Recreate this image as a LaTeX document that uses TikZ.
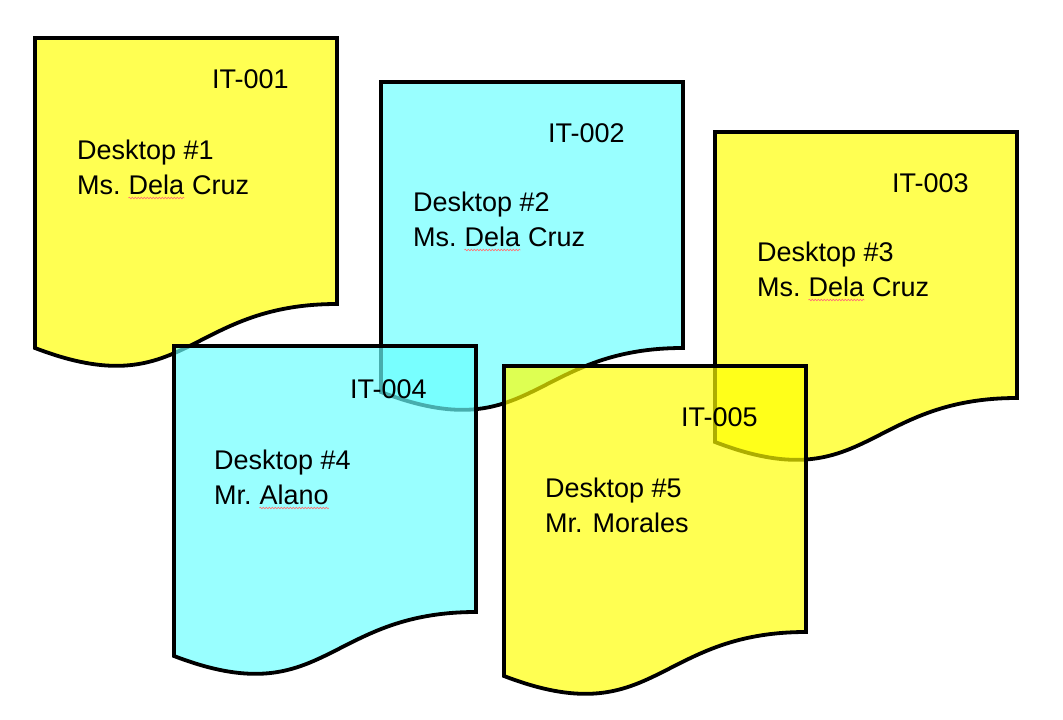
\documentclass[tikz,border=0pt]{standalone}
\usepackage{fontspec}
\setmainfont{Liberation Sans}
\usetikzlibrary{calc, decorations.pathmorphing}
\definecolor{sheetyellow}{HTML}{FFFF00}
\definecolor{sheetcyan}{HTML}{69FFFF}
% a document sheet: name, top-left corner, style
\newcommand{\docsheet}[3]{%
  \coordinate (#1) at (#2);
  \draw[#3] (#1) -- ($(#1)+(302,0)$) -- ($(#1)+(302,266)$)
    .. controls ($(#1)+(151,266)$) and ($(#1)+(151,368)$) .. ($(#1)+(0,310)$) -- cycle;
}

\begin{document}
\begin{tikzpicture}[
    x=1pt, y=-1pt,
    yellowsheet/.style={draw=black, line width=3.8pt, fill=sheetyellow, fill opacity=0.68},
    cyansheet/.style={draw=black, line width=3.8pt, fill=sheetcyan, fill opacity=0.68},
    txt/.style={font=\fontsize{27}{33}\selectfont, inner sep=0pt, anchor=base west},
    spellwave/.style={draw=red!55, line width=0.6pt, decorate,
        decoration={snake, amplitude=0.8pt, segment length=3pt}}]

    \useasboundingbox (0,0) rectangle (1063,720);

    % ================= the five sheets =================
    \docsheet{s1}{35,38}{yellowsheet}
    \docsheet{s2}{381,82}{cyansheet}
    \docsheet{s3}{715,132}{yellowsheet}
    \docsheet{s4}{174,346}{cyansheet}
    \docsheet{s5}{504,366}{yellowsheet}

    % ================= labels =================
    \node[txt] (id1) at ($(s1)+(177,50)$) {IT-001};
    \node[txt] (pc1) at ($(s1)+(42,121)$) {Desktop \#1};
    \node[txt] (ti1) at ($(pc1.base west)+(0,35)$) {Ms.};
    \node[txt] (fa1) at ($(ti1.base east)+(7.5,0)$) {Dela};
    \node[txt] (la1) at ($(fa1.base east)+(7.5,0)$) {Cruz};

    \node[txt] (id2) at ($(s2)+(167,60)$) {IT-002};
    \node[txt] (pc2) at ($(s2)+(32,129)$) {Desktop \#2};
    \node[txt] (ti2) at ($(pc2.base west)+(0,35)$) {Ms.};
    \node[txt] (fa2) at ($(ti2.base east)+(7.5,0)$) {Dela};
    \node[txt] (la2) at ($(fa2.base east)+(7.5,0)$) {Cruz};

    \node[txt] (id3) at ($(s3)+(177,60)$) {IT-003};
    \node[txt] (pc3) at ($(s3)+(42,129)$) {Desktop \#3};
    \node[txt] (ti3) at ($(pc3.base west)+(0,35)$) {Ms.};
    \node[txt] (fa3) at ($(ti3.base east)+(7.5,0)$) {Dela};
    \node[txt] (la3) at ($(fa3.base east)+(7.5,0)$) {Cruz};

    \node[txt] (id4) at ($(s4)+(176,52)$) {IT-004};
    \node[txt] (pc4) at ($(s4)+(40,123)$) {Desktop \#4};
    \node[txt] (ti4) at ($(pc4.base west)+(0,35)$) {Mr.};
    \node[txt] (fa4) at ($(ti4.base east)+(7.5,0)$) {Alano};

    \node[txt] (id5) at ($(s5)+(177,60)$) {IT-005};
    \node[txt] (pc5) at ($(s5)+(41,131)$) {Desktop \#5};
    \node[txt] (us5) at ($(pc5.base west)+(0,35)$) {Mr. Morales};

    % spell-check marks under the names
    \foreach \w in {fa1, fa2, fa3, fa4}
        \draw[spellwave] ($(\w.base west)+(0,4)$) -- ($(\w.base east)+(0,4)$);
\end{tikzpicture}
\end{document}
